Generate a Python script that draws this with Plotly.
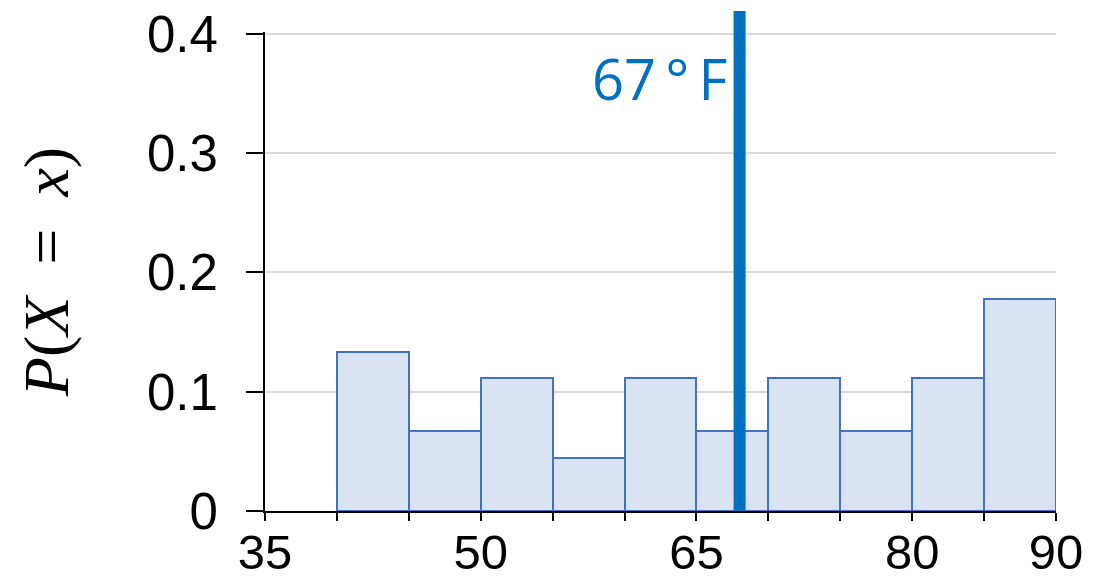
import plotly.graph_objects as go

# Data
bin_left = [40, 45, 50, 55, 60, 65, 70, 75, 80, 85]
bin_width = 5
probs = [6/45, 3/45, 5/45, 2/45, 5/45, 3/45, 5/45, 3/45, 5/45, 8/45]
marker_x = 68
marker_label = "67\u2009°\u2009F"
x_tick_vals = [35, 40, 45, 50, 55, 60, 65, 70, 75, 80, 85, 90]
x_tick_text = ["35", "", "", "50", "", "", "65", "", "", "80", "", "90"]
y_tick_vals = [0, 0.1, 0.2, 0.3, 0.4]
y_tick_text = ["0", "0.1", "0.2", "0.3", "0.4"]
y_max = 0.4015

centers = [b + bin_width / 2 for b in bin_left]

fig = go.Figure()
fig.add_trace(go.Bar(
    x=centers, y=probs, width=[bin_width] * len(centers),
    marker=dict(color="#DAE3F3", line=dict(color="#4472C4", width=2)),
    showlegend=False, hoverinfo="skip",
))

fig.add_shape(type="line", xref="x", yref="paper",
              x0=marker_x, x1=marker_x, y0=0, y1=1.044,
              line=dict(color="#0070C0", width=12), layer="above")

fig.add_annotation(x=marker_x, xref="x", y=0.905, yref="paper",
                   text=marker_label, showarrow=False, xanchor="right",
                   yanchor="middle", xshift=-10,
                   font=dict(family="Open Sans", size=56, color="#0070C0"))

fig.update_layout(
    width=1114, height=583,
    margin=dict(l=265, r=58, t=32, b=72),
    plot_bgcolor="white", paper_bgcolor="white",
    bargap=0,
    font=dict(family="Liberation Sans", size=52, color="black"),
    xaxis=dict(range=[35, 90], tickvals=x_tick_vals, ticktext=x_tick_text,
               showline=True, linecolor="black", linewidth=2,
               ticks="outside", ticklen=8, tickwidth=2, tickcolor="black",
               showgrid=False, zeroline=False, ticklabelstandoff=-11,
               automargin=False, tickfont=dict(size=49)),
    yaxis=dict(range=[0, y_max], tickvals=y_tick_vals, ticktext=y_tick_text,
               showline=True, linecolor="black", linewidth=2,
               ticks="outside", ticklen=17, tickwidth=2, tickcolor="black",
               showgrid=True, gridcolor="#D9D9D9", gridwidth=2,
               zeroline=False, ticklabelstandoff=18, automargin=False,
               ticklabeloverflow="allow",
               tickfont=dict(size=51),
               title=dict(text="<i>P</i>(<i>X</i>\u2002=\u2002<i>x</i>)",
                          font=dict(family="Liberation Serif", size=64),
                          standoff=57)),
)

fig.write_html("out.html", config={"displayModeBar": False},
               post_script="document.body.style.margin='0';")
